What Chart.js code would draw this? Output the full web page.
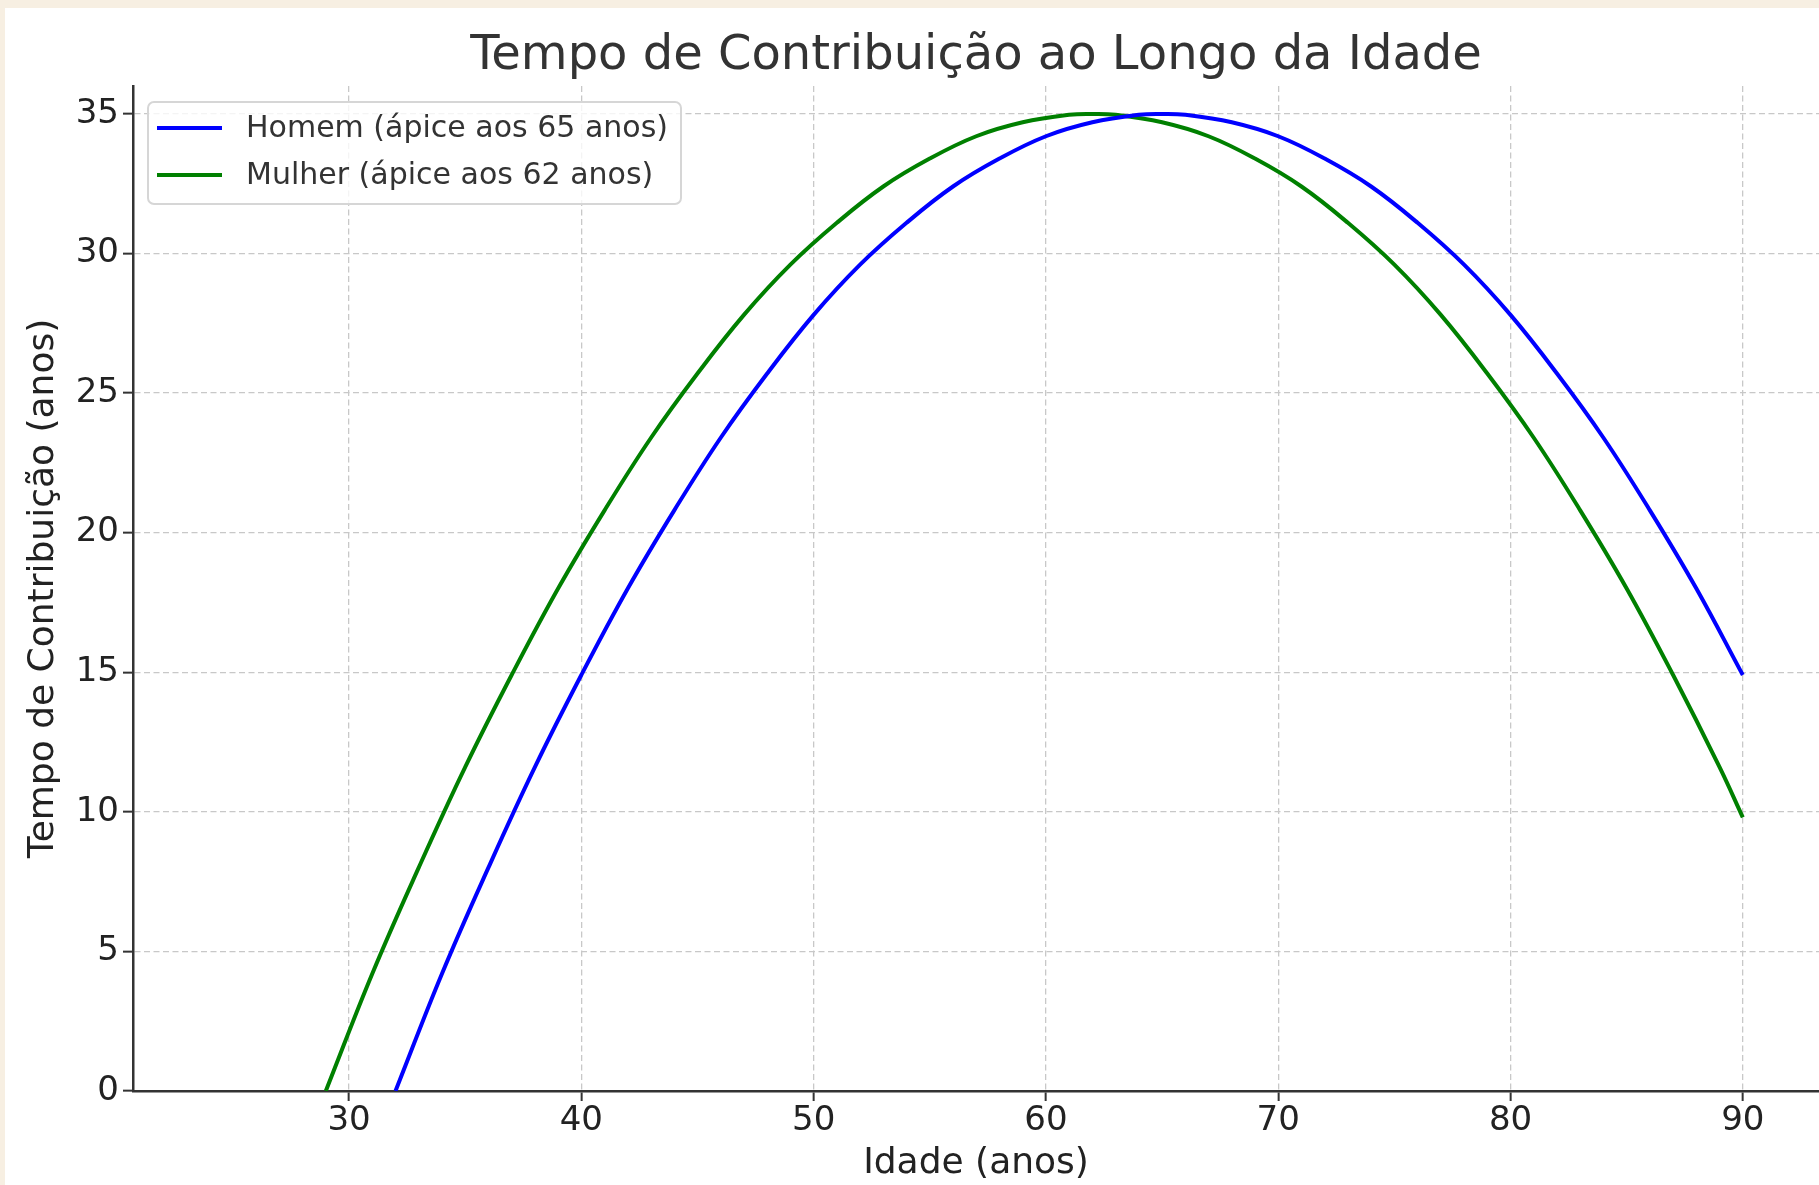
<!DOCTYPE html>
<html lang="pt">
<head>
  <meta charset="UTF-8">
  <title>Tempo de Contribuição ao Longo da Idade</title>
  <script src="https://cdn.jsdelivr.net/npm/chart.js"></script>
  <style>
    html, body { margin: 0; padding: 0; background: #f7efe2; width: 1819px; height: 1185px; overflow: hidden; }
    #wrap { position: absolute; left: 5px; top: 8px; width: 1814px; height: 1177px; background: #fff; }
  </style>
</head>
<body>
  <div id="wrap"><canvas id="grafico" width="1814" height="1177"></canvas></div>
  <script>
    // valores
    const idadeHomem = [32, 34, 36, 38, 40, 42, 44, 46, 48, 50, 52, 54, 56, 58, 60, 62, 64, 65,
                        66, 68, 70, 72, 74, 76, 78, 80, 82, 84, 86, 88, 90];
    const tempoHomem = [0.0, 4.2, 8.0, 11.6, 14.9, 18.0, 20.8, 23.4, 25.7, 27.8, 29.6, 31.1, 32.4, 33.4, 34.2, 34.7, 34.97, 35.0,
                        34.97, 34.7, 34.2, 33.4, 32.4, 31.1, 29.6, 27.8, 25.7, 23.4, 20.8, 18.0, 14.9];
    const idadeMulher = [29, 31, 33, 35, 37, 39, 41, 43, 45, 47, 49, 51, 53, 55, 57, 59, 61, 62,
                         63, 65, 67, 69, 71, 73, 75, 77, 79, 81, 83, 85, 87, 89, 90];
    const tempoMulher = [0.0, 4.2, 8.0, 11.6, 14.9, 18.0, 20.8, 23.4, 25.7, 27.8, 29.6, 31.1, 32.4, 33.4, 34.2, 34.7, 34.97, 35.0,
                         34.97, 34.7, 34.2, 33.4, 32.4, 31.1, 29.6, 27.8, 25.7, 23.4, 20.8, 18.0, 14.9, 11.6, 9.8];
    const xTicks = [30, 40, 50, 60, 70, 80, 90];
    const yTicks = [0, 5, 10, 15, 20, 25, 30, 35];

    const pares = (xs, ys) => xs.map((x, i) => ({ x: x, y: ys[i] }));

    // legenda desenhada dentro da área do gráfico, como no original
    const legendaCaixa = {
      id: 'legendaCaixa',
      afterDatasetsDraw(chart) {
        const ctx = chart.ctx;
        const a = chart.chartArea;
        const x0 = a.left + 15, y0 = a.top + 16, w = 533, h = 102;
        ctx.save();
        ctx.beginPath();
        ctx.roundRect(x0, y0, w, h, 6);
        ctx.fillStyle = 'rgba(255,255,255,0.8)';
        ctx.fill();
        ctx.lineWidth = 2;
        ctx.strokeStyle = '#d6d6d6';
        ctx.stroke();
        ctx.font = '30px "DejaVu Sans"';
        ctx.textBaseline = 'middle';
        chart.data.datasets.forEach((ds, i) => {
          const y = y0 + 26 + i * 47;
          ctx.beginPath();
          ctx.moveTo(x0 + 9, y);
          ctx.lineTo(x0 + 74, y);
          ctx.strokeStyle = ds.borderColor;
          ctx.lineWidth = 4;
          ctx.stroke();
          ctx.fillStyle = '#333';
          ctx.fillText(ds.label, x0 + 98, y + 1);
        });
        ctx.restore();
      }
    };

    const ctx = document.getElementById('grafico').getContext('2d');
    new Chart(ctx, {
      type: 'line',
      data: {
        datasets: [{
          label: 'Homem (ápice aos 65 anos)',
          data: pares(idadeHomem, tempoHomem),
          borderColor: '#0000ff',
          borderWidth: 4,
          pointRadius: 0,
          tension: 0.4
        }, {
          label: 'Mulher (ápice aos 62 anos)',
          data: pares(idadeMulher, tempoMulher),
          borderColor: '#008000',
          borderWidth: 4,
          pointRadius: 0,
          tension: 0.4
        }]
      },
      options: {
        responsive: false,
        animation: false,
        layout: { padding: 0 },
        plugins: {
          legend: { display: false },
          tooltip: { enabled: false },
          title: {
            display: true,
            fullSize: false,
            text: 'Tempo de Contribuição ao Longo da Idade',
            color: '#333',
            font: { family: 'DejaVu Sans', size: 48, weight: 'normal' },
            padding: { top: 20, bottom: 0.4 }
          }
        },
        scales: {
          x: {
            type: 'linear',
            min: 20.7,
            max: 93.28,
            afterBuildTicks: axis => { axis.ticks = xTicks.map(v => ({ value: v })); },
            afterFit: axis => { axis.height = 94; },
            ticks: {
              color: '#222',
              font: { family: 'DejaVu Sans', size: 34 },
              padding: 0,
              maxRotation: 0,
              autoSkip: false
            },
            grid: {
              color: '#c8c8c8',
              lineWidth: 1.3,
              tickColor: '#333',
              tickWidth: 2,
              tickLength: 10,
              tickBorderDash: [100, 0]
            },
            border: { display: true, color: '#333', width: 2.5, dash: [6, 3.5] },
            title: {
              display: true,
              text: 'Idade (anos)',
              color: '#222',
              font: { family: 'DejaVu Sans', size: 36 },
              padding: { top: 0, bottom: 0 }
            }
          },
          y: {
            type: 'linear',
            min: 0,
            max: 36,
            afterBuildTicks: axis => { axis.ticks = yTicks.map(v => ({ value: v })); },
            afterFit: axis => { axis.width = 128; },
            ticks: {
              color: '#222',
              font: { family: 'DejaVu Sans', size: 34 },
              padding: 4
            },
            grid: {
              color: '#c8c8c8',
              lineWidth: 1.3,
              tickColor: '#333',
              tickWidth: 2,
              tickLength: 10,
              tickBorderDash: [100, 0]
            },
            border: { display: true, color: '#333', width: 2.5, dash: [6, 3.5] },
            title: {
              display: true,
              text: 'Tempo de Contribuição (anos)',
              color: '#222',
              font: { family: 'DejaVu Sans', size: 36 },
              padding: { top: 17, bottom: 0 }
            }
          }
        }
      },
      plugins: [legendaCaixa]
    });
  </script>
</body>
</html>
